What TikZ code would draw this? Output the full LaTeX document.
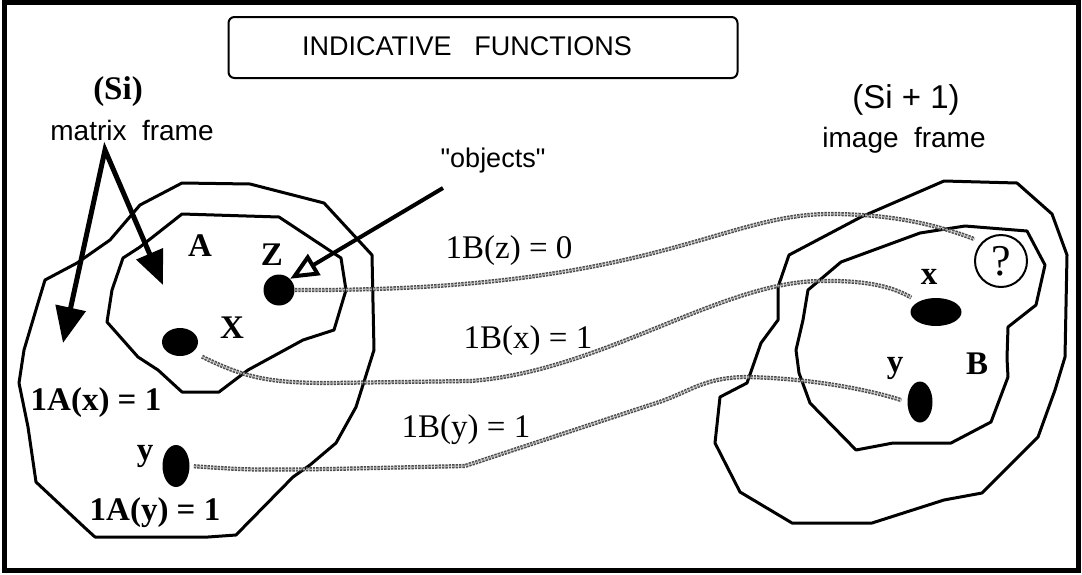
\documentclass[tikz,border=0pt]{standalone}
\usepackage{fontspec}
\setmainfont{Liberation Serif}
\setsansfont{Liberation Sans}
\usetikzlibrary{arrows.meta, shapes.geometric}
\tikzset{
    region/.style={draw, line width=1.5pt, line join=round},
    blob/.style={ellipse, fill=black, inner sep=0pt},
    serlbl/.style={font=\fontsize{16.5}{18}\selectfont, inner sep=0pt},
    boldlbl/.style={font=\fontsize{16.5}{18}\selectfont\bfseries, inner sep=0pt},
    sanslbl/.style={font=\sffamily\fontsize{14}{16}\selectfont, inner sep=0pt},
    link/.style={draw=black!70, line width=0.75pt, double=black!30, double distance=0.6pt,
                 dash pattern=on 1.2pt off 0.5pt},
    pointer/.style={{Triangle[length=18pt,width=15pt]}-{Triangle[length=17pt,width=14pt]},
                    line width=2.5pt, line join=miter},
    hollowptr/.style={-{Triangle[open,length=14pt,width=12pt]}, line width=2pt},
}

\begin{document}
\begin{tikzpicture}[x=0.5pt, y=-0.5pt]
    \useasboundingbox (0,0) rectangle (1082,574);
    \draw[line width=2.5pt] (4,2.5) rectangle (1078,570.5);

    % title
    \node[draw, rounded corners=3pt, line width=1pt, minimum width=254.5pt,
          minimum height=30.5pt] (titlebox) at (483,47.5) {};
    \node[sanslbl, font=\sffamily\fontsize{13.5}{15}\selectfont] (title) at (467,46)
        {INDICATIVE\hspace{0.85em}FUNCTIONS};

    % matrix frame (Si)
    \draw[region] (45,280) -- (77,263) -- (110,240) -- (140,205) -- (182,183)
        -- (250,184) -- (324,203) -- (372,255) -- (374,350) -- (356,407)
        -- (336,443) -- (310,465) -- (293,477) -- (236,535) -- (208,537)
        -- (95,537) -- (84,527) -- (36,482) -- (28,427) -- (19,383)
        -- (24,350) -- (38,303) -- cycle;
    \draw[region] (107,322) -- (112,290) -- (123,258) -- (140,247) -- (182,214)
        -- (279,217) -- (341,258) -- (346,290) -- (334,330) -- (303,340)
        -- (248,370) -- (219,392) -- (182,392) -- (158,370) -- (138,357)
        -- cycle;

    % image frame (Si + 1)
    \draw[region] (789,255) -- (861,217) -- (944,181) -- (1017,183) -- (1052,214)
        -- (1067,255) -- (1065,357) -- (1055,390) -- (1038,437) -- (982,493)
        -- (944,500) -- (872,523) -- (792,523) -- (740,492) -- (715,443)
        -- (720,397) -- (747,383) -- (761,343) -- (778,320) -- (778,287)
        -- cycle;
    \draw[region] (803,320) -- (808,290) -- (841,262) -- (920,233) -- (965,226)
        -- (1027,231) -- (1045,265) -- (1036,305) -- (1008,327) -- (1007,358)
        -- (1008,377) -- (991,422) -- (951,443) -- (893,443) -- (856,450)
        -- (810,403) -- (799,373) -- (796,350) -- cycle;

    % objects
    \node[blob, circle, minimum size=15.5pt] (zA) at (279,290) {};
    \node[blob, minimum width=18pt, minimum height=14pt] (xA) at (180,342) {};
    \node[blob, minimum width=13.5pt, minimum height=21pt] (yA) at (176,466) {};
    \node[blob, minimum width=25.5pt, minimum height=14pt] (xB) at (936,312) {};
    \node[blob, minimum width=12.5pt, minimum height=20.5pt] (yB) at (920,402) {};
    \node[circle, draw, line width=1pt, minimum size=26pt, inner sep=0pt,
          font=\fontsize{22}{24}\selectfont] (q) at (1001,261) {?};

    % labels
    \node[boldlbl] (si) at (118,92) {(Si)};
    \node[sanslbl] (mframe) at (132,130) {matrix\hspace{0.55em}frame};
    \node[sanslbl, font=\sffamily\fontsize{13.5}{15}\selectfont] (objects) at (493,161)
        {\textquotedbl objects\textquotedbl};
    \node[sanslbl, font=\sffamily\fontsize{16.5}{18}\selectfont] (sinext) at (906,100) {(Si + 1)};
    \node[sanslbl] (iframe) at (904,140) {image\hspace{0.55em}frame};
    \node[boldlbl] (lA) at (200,246) {A};
    \node[boldlbl] (lZ) at (272,255) {Z};
    \node[boldlbl] (lX) at (232,328) {X};
    \node[boldlbl] (ly) at (145,456) {y};
    \node[boldlbl] (ax) at (96,403) {1A(x) = 1};
    \node[boldlbl] (ay) at (155,513) {1A(y) = 1};
    \node[boldlbl] (lx2) at (929,277) {x};
    \node[boldlbl] (ly2) at (895,368) {y};
    \node[boldlbl] (lB) at (977,364) {B};
    \node[serlbl] (bz) at (509,251) {1B(z) = 0};
    \node[serlbl] (bx) at (528,341) {1B(x) = 1};
    \node[serlbl] (by) at (466,430) {1B(y) = 1};

    % pointers
    \coordinate (fork) at (105,150);
    \coordinate (tipS) at (63,343);
    \coordinate (tipA) at (163,285);
    \coordinate (objtail) at (443,188);
    \draw[pointer] (tipS) -- (fork) -- (tipA);
    \draw[hollowptr] (objtail) -- (zA.north east);

    % indicative links
    \draw[link, shorten >=4pt] (zA.east) .. controls (650,292) and (720,214) .. (830,214)
        .. controls (900,214) and (945,228) .. (q.north west);
    \draw[link, shorten <=5pt, shorten >=4pt] (xA.south east) .. controls (245,378) and (270,383) .. (330,383)
        -- (470,381) .. controls (600,372) and (720,282) .. (820,281)
        .. controls (870,280) and (895,288) .. (xB.150);
    \draw[link, shorten <=2pt, shorten >=3pt] (yA.east) .. controls (250,470) .. (330,469)
        -- (465,466) -- (650,405) .. controls (690,393) and (700,378) .. (745,377)
        .. controls (810,378) and (870,390) .. (yB.west);
\end{tikzpicture}
\end{document}
